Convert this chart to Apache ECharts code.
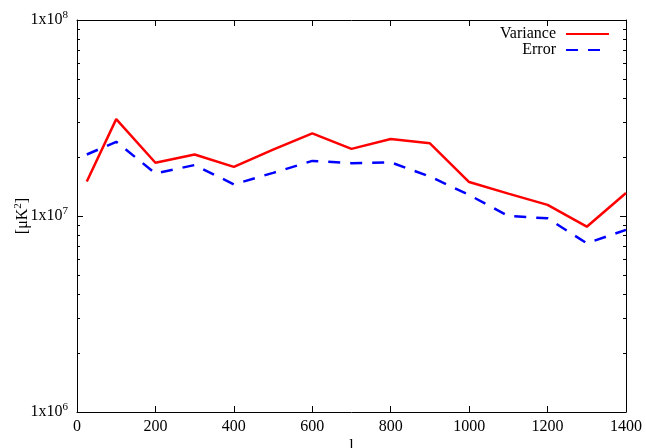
<!DOCTYPE html>
<html><head><meta charset="utf-8">
<script src="https://cdn.jsdelivr.net/npm/echarts@6/dist/echarts.min.js"></script>
<style>html,body{margin:0;padding:0;background:#fff}#c{width:646px;height:448px}</style>
</head><body><div id="c"></div>
<script>
const multipoles = [25, 100, 200, 300, 400, 500, 600, 700, 800, 900, 1000, 1100, 1200, 1300, 1400];
const variance = [1.50e7, 3.12e7, 1.87e7, 2.06e7, 1.78e7, 2.18e7, 2.64e7, 2.20e7, 2.47e7, 2.35e7, 1.49e7, 1.30e7, 1.14e7, 8.82e6, 1.31e7];
const errorVals = [2.06e7, 2.39e7, 1.65e7, 1.82e7, 1.45e7, 1.66e7, 1.91e7, 1.86e7, 1.88e7, 1.59e7, 1.28e7, 1.00e7, 9.73e6, 7.26e6, 8.49e6];
const yMajor = [1e6, 1e7, 1e8];
const yMinor = [2e6,3e6,4e6,5e6,6e6,7e6,8e6,9e6,2e7,3e7,4e7,5e7,6e7,7e7,8e7,9e7];
const xTicks = [0, 200, 400, 600, 800, 1000, 1200, 1400];

const FONT = 'Liberation Serif';
const chart = echarts.init(document.getElementById('c'), null, {renderer: 'canvas'});
const supRich = {
  b: {fontFamily: FONT, fontSize: 16, color: '#000'},
  s: {fontFamily: FONT, fontSize: 11, color: '#000', verticalAlign: 'bottom', padding: [0, 0, 9, 0]}
};
function yAx(pos, major, showLabel, showLine) {
  return {
    type: 'log', position: pos, min: 1e6, max: 1e8, logBase: 10,
    axisLine: {show: showLine, lineStyle: {color: '#000', width: 1}},
    splitLine: {show: false},
    axisTick: {show: true, inside: true, length: major ? 6 : 3, customValues: major ? yMajor : yMinor,
      lineStyle: {color: '#000', width: 1}},
    axisLabel: {show: showLabel, customValues: yMajor, margin: 9,
      formatter: v => '{b|1x10}{s|' + Math.round(Math.log10(v)) + '}', rich: supRich},
    name: showLabel ? '{b|[μK}{s|2}{b|]}' : '',
    nameLocation: 'middle', nameGap: 44, nameRotate: 90, nameMoveOverlap: false,
    nameTextStyle: {rich: supRich}
  };
}
function xAx(pos, showLabel) {
  return {
    type: 'value', position: pos, min: 0, max: 1400, interval: 200,
    axisLine: {show: true, lineStyle: {color: '#000', width: 1}},
    splitLine: {show: false},
    axisTick: {show: true, inside: true, length: 6, customValues: xTicks, lineStyle: {color: '#000', width: 1}},
    axisLabel: {show: showLabel, customValues: xTicks, margin: 7, fontFamily: FONT, fontSize: 16, color: '#000',
      formatter: v => String(v)},
    name: showLabel ? 'l' : '', nameLocation: 'middle', nameGap: 27, nameMoveOverlap: false,
    nameTextStyle: {fontFamily: FONT, fontSize: 16, color: '#000'}
  };
}
chart.setOption({
  animation: false,
  backgroundColor: '#fff',
  grid: {left: 77, right: 20, top: 20, bottom: 36, containLabel: false, outerBoundsMode: 'none'},
  xAxis: [xAx('bottom', true), xAx('top', false)],
  yAxis: [yAx('left', true, true, true), yAx('left', false, false, false),
          yAx('right', true, false, true), yAx('right', false, false, false)],
  legend: {
    orient: 'vertical', right: 31, top: 21, align: 'right',
    itemWidth: 43, itemHeight: 16, itemGap: 0,
    itemStyle: {opacity: 0},
    textStyle: {fontFamily: FONT, fontSize: 16, color: '#000', lineHeight: 16, padding: [0, 5, 0, 0]},
    data: ['Variance', 'Error']
  },
  series: [
    {name: 'Variance', type: 'line', xAxisIndex: 0, yAxisIndex: 0, symbol: 'none',
     lineStyle: {color: '#ff0000', width: 2.5}, itemStyle: {color: '#ff0000'},
     data: multipoles.map((x, i) => [x, variance[i]])},
    {name: 'Error', type: 'line', xAxisIndex: 0, yAxisIndex: 0, symbol: 'none',
     lineStyle: {color: '#0000ff', width: 2.5, type: [12, 10]}, itemStyle: {color: '#0000ff'},
     data: multipoles.map((x, i) => [x, errorVals[i]])}
  ]
});
</script></body></html>
